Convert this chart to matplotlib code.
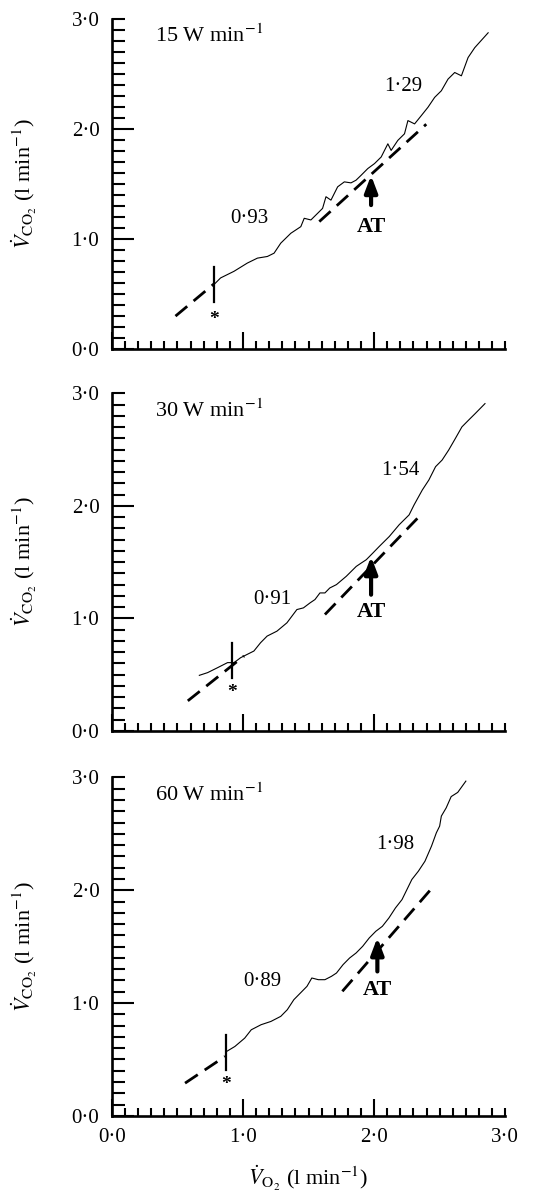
import matplotlib
matplotlib.use('Agg')
import matplotlib.pyplot as plt
from matplotlib.ticker import MultipleLocator, FixedLocator, FuncFormatter

plt.rcParams['font.family'] = ['Liberation Serif', 'DejaVu Serif']
plt.rcParams['mathtext.fontset'] = 'stix'

# ---- 15 W/min ----
vo2_15 = [0.778, 0.829, 0.931, 1.033, 1.110, 1.186, 1.237, 1.288, 1.365, 1.441, 1.467, 1.518,
          1.569, 1.607, 1.633, 1.671, 1.722, 1.773, 1.824, 1.862, 1.901, 1.952, 2.003, 2.054,
          2.105, 2.130, 2.181, 2.232, 2.258, 2.309, 2.360, 2.411, 2.462, 2.513, 2.564, 2.615,
          2.666, 2.717, 2.768, 2.870]
vco2_15 = [0.587, 0.648, 0.708, 0.783, 0.828, 0.843, 0.873, 0.964, 1.054, 1.114, 1.190, 1.175,
           1.235, 1.280, 1.386, 1.355, 1.476, 1.521, 1.512, 1.536, 1.581, 1.642, 1.687, 1.747,
           1.867, 1.807, 1.898, 1.958, 2.078, 2.048, 2.123, 2.199, 2.289, 2.349, 2.455, 2.515,
           2.485, 2.651, 2.741, 2.876]
fit_lo_15 = ([0.485, 0.778], [0.301, 0.593])
fit_hi_15 = ([1.582, 2.398], [1.160, 2.045])
start_15 = 0.778
at_15 = 1.977
slopes_15 = ['0\u00b793', '1\u00b729']

# ---- 30 W/min ----
vo2_30 = [0.667, 0.730, 0.806, 0.882, 0.932, 0.982, 1.083, 1.134, 1.184, 1.259, 1.335, 1.411,
          1.461, 1.511, 1.549, 1.587, 1.625, 1.662, 1.713, 1.788, 1.864, 1.902, 1.940, 1.990,
          2.040, 2.116, 2.191, 2.267, 2.305, 2.368, 2.418, 2.469, 2.519, 2.569, 2.620, 2.670,
          2.720, 2.771, 2.846]
vco2_30 = [0.493, 0.517, 0.561, 0.606, 0.606, 0.650, 0.709, 0.783, 0.842, 0.886, 0.960, 1.078,
           1.093, 1.137, 1.167, 1.226, 1.226, 1.270, 1.300, 1.374, 1.462, 1.492, 1.521, 1.580,
           1.640, 1.728, 1.832, 1.920, 2.009, 2.142, 2.231, 2.349, 2.408, 2.497, 2.600, 2.703,
           2.762, 2.821, 2.910]
fit_lo_30 = ([0.579, 1.008], [0.266, 0.665])
fit_hi_30 = ([1.625, 2.368], [1.034, 1.935])
start_30 = 0.919
at_30 = 1.977
slopes_30 = ['0\u00b791', '1\u00b754']

# ---- 60 W/min ----
vo2_60 = [0.875, 0.938, 1.013, 1.063, 1.138, 1.213, 1.288, 1.338, 1.388, 1.438, 1.488, 1.525,
          1.575, 1.625, 1.675, 1.713, 1.763, 1.813, 1.863, 1.913, 1.963, 2.013, 2.063, 2.113,
          2.163, 2.213, 2.288, 2.338, 2.388, 2.438, 2.475, 2.500, 2.513, 2.550, 2.588, 2.638,
          2.700]
vco2_60 = [0.571, 0.615, 0.689, 0.763, 0.808, 0.837, 0.882, 0.941, 1.030, 1.089, 1.148, 1.222,
           1.207, 1.207, 1.237, 1.266, 1.340, 1.399, 1.444, 1.503, 1.577, 1.636, 1.680, 1.754,
           1.843, 1.917, 2.095, 2.169, 2.257, 2.391, 2.509, 2.568, 2.657, 2.730, 2.830, 2.867,
           2.967]
fit_lo_60 = ([0.558, 0.863], [0.290, 0.527])
fit_hi_60 = ([1.758, 2.450], [1.104, 2.030])
start_60 = 0.870
at_60 = 2.025
slopes_60 = ['0\u00b789', '1\u00b798']

rates = ['15', '30', '60']

fmt = FuncFormatter(lambda v, p: f'{v:.1f}'.replace('.', '\u00b7'))

fig = plt.figure(figsize=(5.38, 11.96), dpi=100)
rects = [[0.208, 0.708, 0.731, 0.276],
         [0.208, 0.389, 0.731, 0.282],
         [0.208, 0.067, 0.731, 0.283]]

panels = [
    (vo2_15, vco2_15, fit_lo_15, fit_hi_15, start_15, at_15, slopes_15,
     dict(mark=(0.43, 0.745), star=0.27, at=(1.31, 1.58, 1.11), s1=(1.046, 1.19), s2=(2.22, 2.39))),
    (vo2_30, vco2_30, fit_lo_30, fit_hi_30, start_30, at_30, slopes_30,
     dict(mark=(0.47, 0.78), star=0.34, at=(1.21, 1.55, 1.06), s1=(1.222, 1.167), s2=(2.204, 2.319))),
    (vo2_60, vco2_60, fit_lo_60, fit_hi_60, start_60, at_60, slopes_60,
     dict(mark=(0.41, 0.72), star=0.28, at=(1.28, 1.58, 1.12), s1=(1.15, 1.19), s2=(2.163, 2.405))),
]

for i, (x, y, flo, fhi, st, at, slopes, pos) in enumerate(panels):
    ax = fig.add_axes(rects[i])
    ax.plot(x, y, color='black', lw=0.8)
    for f in (flo, fhi):
        ax.plot(f[0], f[1], color='black', lw=2.0, dashes=(5.5, 3), dash_capstyle='butt')
    ax.plot([st, st], list(pos['mark']), color='black', lw=1.6)
    ax.text(st, pos['star'], '*', ha='center', va='center', fontsize=14, fontweight='bold')
    ax.annotate('', xy=(at, pos['at'][1]), xytext=(at, pos['at'][0]),
                arrowprops=dict(arrowstyle='-|>,head_width=0.38,head_length=1.0', lw=3,
                                color='black', shrinkA=0, shrinkB=0))
    ax.text(at, pos['at'][2], 'AT', ha='center', va='center', fontsize=16, fontweight='bold')
    ax.text(pos['s1'][0], pos['s1'][1], slopes[0], ha='center', va='center', fontsize=15)
    ax.text(pos['s2'][0], pos['s2'][1], slopes[1], ha='center', va='center', fontsize=15)
    ax.text(0.33, 2.85, rates[i] + r' W min$^{-1}$', ha='left', va='center', fontsize=16)

    ax.set_xlim(0, 3.0)
    ax.set_ylim(0, 3.0)
    for s in ['top', 'right']:
        ax.spines[s].set_visible(False)
    for s in ['left', 'bottom']:
        ax.spines[s].set_linewidth(1.9)

    ax.xaxis.set_major_locator(FixedLocator([0, 1, 2, 3]))
    ax.xaxis.set_minor_locator(MultipleLocator(0.1))
    ax.yaxis.set_major_locator(FixedLocator([0, 1, 2, 3]))
    ax.yaxis.set_minor_locator(MultipleLocator(0.1))
    ax.tick_params(axis='x', which='major', direction='in', length=12, width=1.5, pad=9,
                   labelsize=15)
    ax.tick_params(axis='x', which='minor', direction='in', length=6, width=1.5)
    ax.tick_params(axis='y', which='major', direction='in', length=16, width=1.5, pad=9,
                   labelsize=15)
    ax.tick_params(axis='y', which='minor', direction='in', length=9, width=1.5)
    ax.yaxis.set_major_formatter(fmt)
    if i == 2:
        ax.xaxis.set_major_formatter(fmt)
        ax.set_xlabel(r'$\dot{V}_{\mathrm{O}_2}$ (l min$^{-1}$)', fontsize=16, labelpad=12)
    else:
        ax.set_xticklabels([])
    ax.xaxis.get_major_ticks()[-1].tick1line.set_markersize(6)
    ax.yaxis.get_major_ticks()[-1].tick1line.set_markersize(9)

    ax.set_ylabel(r'$\dot{V}_{\mathrm{CO}_2}$ (l min$^{-1}$)', fontsize=16)
    ax.yaxis.set_label_coords(-0.185, 0.5)

fig.savefig('out.png', dpi=100)
